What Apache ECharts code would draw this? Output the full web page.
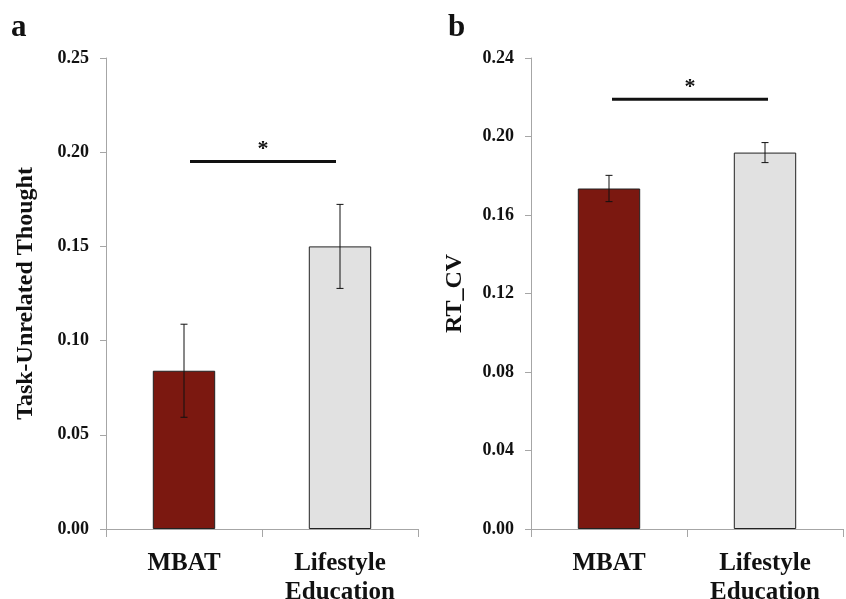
<!DOCTYPE html>
<html>
<head>
<meta charset="utf-8">
<script src="https://cdn.jsdelivr.net/npm/echarts@6/dist/echarts.min.js"></script>
<style>
html,body{margin:0;padding:0;background:#fff;}
#chart{width:846px;height:599px;}
</style>
</head>
<body>
<div id="chart"></div>
<script>
// ---- data ----
const categories = ['MBAT', 'Lifestyle\nEducation'];
const turMeans = [0.084, 0.150];
const turErrors = [0.0247, 0.0223];
const rtcvMeans = [0.1735, 0.1918];
const rtcvErrors = [0.0067, 0.0051];
const sigLevelA = 0.195;
const sigLevelB = 0.219;
const yAxisA = { min: 0, max: 0.25, interval: 0.05, name: 'Task-Unrelated Thought' };
const yAxisB = { min: 0, max: 0.24, interval: 0.04, name: 'RT_CV' };
const barColors = ['#7b1810', '#e1e1e1'];
const panelLabels = ['a', 'b'];

const FONT = '"Liberation Serif", "Times New Roman", serif';
const axisColor = '#a6a6a6';

const chart = echarts.init(document.getElementById('chart'), null, { renderer: 'canvas' });

function makeX(gridIndex) {
  return {
    type: 'category', gridIndex: gridIndex, data: categories,
    axisLine: { lineStyle: { color: axisColor, width: 1 } },
    axisTick: { show: true, length: 8, lineStyle: { color: axisColor } },
    axisLabel: { color: '#111', fontFamily: FONT, fontWeight: 'bold', fontSize: 25, lineHeight: 29, margin: 20, interval: 0 }
  };
}
function makeY(gridIndex, cfg, gap) {
  return {
    type: 'value', gridIndex: gridIndex, min: cfg.min, max: cfg.max, interval: cfg.interval,
    name: cfg.name, nameLocation: 'middle', nameGap: gap, nameRotate: 90,
    nameTextStyle: { color: '#111', fontFamily: FONT, fontWeight: 'bold', fontSize: 24 },
    axisLine: { show: true, lineStyle: { color: axisColor, width: 1 } },
    axisTick: { show: true, length: 6, lineStyle: { color: axisColor } },
    splitLine: { show: false },
    axisLabel: { color: '#111', fontFamily: FONT, fontWeight: 'bold', fontSize: 18, margin: 17,
      formatter: function (v) { return v.toFixed(2); } }
  };
}
function barSeries(idx, means) {
  return {
    type: 'bar', xAxisIndex: idx, yAxisIndex: idx, barWidth: '40%', z: 2,
    data: means.map(function (v, i) {
      return { value: v, itemStyle: { color: barColors[i], borderColor: '#222', borderWidth: 1 } };
    }),
    silent: true, animation: false
  };
}
function errSeries(idx, means, errs) {
  return {
    type: 'custom', xAxisIndex: idx, yAxisIndex: idx, animation: false, silent: true, z: 10,
    data: means.map(function (v, i) { return [i, v, errs[i]]; }),
    renderItem: function (params, api) {
      const x = api.value(0), y = api.value(1), e = api.value(2);
      const hi = api.coord([x, y + e]);
      const lo = api.coord([x, y - e]);
      const cw = 3.5;
      const st = { stroke: '#111', lineWidth: 1 };
      return { type: 'group', children: [
        { type: 'line', shape: { x1: hi[0], y1: hi[1], x2: lo[0], y2: lo[1] }, style: st },
        { type: 'line', shape: { x1: hi[0] - cw, y1: hi[1], x2: hi[0] + cw, y2: hi[1] }, style: st },
        { type: 'line', shape: { x1: lo[0] - cw, y1: lo[1], x2: lo[0] + cw, y2: lo[1] }, style: st }
      ]};
    }
  };
}
function sigSeries(idx, level, off0, off1) {
  return {
    type: 'custom', xAxisIndex: idx, yAxisIndex: idx, animation: false, silent: true, z: 10,
    data: [[0, 1, level]],
    renderItem: function (params, api) {
      const p0 = api.coord([api.value(0), api.value(2)]);
      const p1 = api.coord([api.value(1), api.value(2)]);
      const x0 = p0[0] + off0, x1 = p1[0] + off1;
      return { type: 'group', children: [
        { type: 'line', shape: { x1: x0, y1: p0[1], x2: x1, y2: p1[1] }, style: { stroke: '#111', lineWidth: 3 } },
        { type: 'text', style: { x: (x0 + x1) / 2, y: p0[1] - 1, text: '*', align: 'center', verticalAlign: 'bottom',
          fill: '#111', font: 'bold 22px ' + FONT } }
      ]};
    }
  };
}

chart.setOption({
  animation: false,
  backgroundColor: '#fff',
  grid: [
    { left: 106, top: 58, width: 312, height: 471, containLabel: false, outerBoundsMode: 'none' },
    { left: 531, top: 58, width: 312, height: 471, containLabel: false, outerBoundsMode: 'none' }
  ],
  xAxis: [makeX(0), makeX(1)],
  yAxis: [makeY(0, yAxisA, 68), makeY(1, yAxisB, 64)],
  graphic: [
    { type: 'text', left: 11, top: 12, style: { text: panelLabels[0], font: 'bold 31px ' + FONT, fill: '#111' } },
    { type: 'text', left: 448, top: 12, style: { text: panelLabels[1], font: 'bold 31px ' + FONT, fill: '#111' } }
  ],
  series: [
    barSeries(0, turMeans), errSeries(0, turMeans, turErrors), sigSeries(0, sigLevelA, 6, -4),
    barSeries(1, rtcvMeans), errSeries(1, rtcvMeans, rtcvErrors), sigSeries(1, sigLevelB, 3, 3)
  ]
});
</script>
</body>
</html>
